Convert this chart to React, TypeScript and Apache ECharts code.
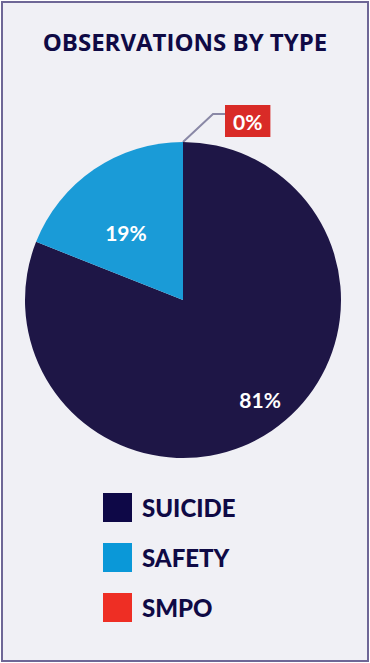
import React, { useEffect, useRef } from "react";
import * as echarts from "echarts";

const categories = ["SUICIDE", "SAFETY", "SMPO"];
const values = [81, 19, 0];
const sliceColors = ["#1e1646", "#1a9bd7", "#d92b27"];
const legendColors = ["#0e0847", "#0a98d8", "#ee2e24"];
const titleText = "OBSERVATIONS BY TYPE";

const W = 370;
const H = 663;
const CX = 183;
const CY = 300;
const R = 158;
const FONT = "Lato, 'Open Sans', sans-serif";
const TITLE_FONT = "'Open Sans', Lato, sans-serif";
const NAVY = "#0f0a45";

export default function App() {
  const ref = useRef<HTMLDivElement>(null);
  useEffect(() => {
    if (!ref.current) return;
    const chart = echarts.init(ref.current, undefined, { renderer: "svg" });
    const insideOffsets: number[][] = [[31, 32], [-11, 0], [0, 0]];
    chart.setOption({
      animation: false,
      backgroundColor: "#ffffff",
      graphic: [
        {
          type: "rect",
          z: -10,
          shape: { x: 2, y: 2, width: W - 4, height: H - 4 },
          style: { fill: "#f0f0f5", stroke: "#6e6796", lineWidth: 2 },
        },
      ],
      title: {
        text: titleText,
        left: "center",
        top: 24,
        textStyle: { fontFamily: TITLE_FONT, fontWeight: "bold", fontSize: 24, color: NAVY },
      },
      legend: {
        orient: "vertical",
        left: 98,
        top: 488,
        itemWidth: 29,
        itemHeight: 29,
        itemGap: 21,
        icon: "rect",
        selectedMode: false,
        data: categories.map((c, i) => ({ name: c, itemStyle: { color: legendColors[i] } })),
        textStyle: {
          fontFamily: FONT,
          fontWeight: 900,
          fontSize: 24,
          color: NAVY,
          padding: [0, 0, 0, 5],
        },
      },
      series: [
        {
          type: "pie",
          center: [CX, CY],
          radius: R,
          startAngle: 90,
          clockwise: true,
          label: {
            show: true,
            position: "inside",
            formatter: "{d}%",
            color: "#ffffff",
            fontFamily: FONT,
            fontWeight: "bold",
            fontSize: 21,
          },
          labelLine: { show: false },
          emphasis: { disabled: true },
          labelLayout: (params: any) => {
            if (params.dataIndex === 2) {
              return {
                x: CX + 42,
                y: CY - R - 21,
                align: "left",
                verticalAlign: "middle",
                labelLinePoints: [
                  [CX, CY - R],
                  [CX + 30, CY - R - 28],
                  [CX + 42, CY - R - 28],
                ],
              };
            }
            return {};
          },
          data: categories.map((c, i) => ({
            name: c,
            value: values[i],
            itemStyle: { color: sliceColors[i] },
            label:
              i === 2
                ? {
                    position: "outside",
                    backgroundColor: "#d92b27",
                    padding: [6, 8, 5, 8],
                    fontSize: 21,
                  }
                : { offset: insideOffsets[i] },
            labelLine:
              i === 2
                ? { show: true, lineStyle: { color: "#8a88a6", width: 2 } }
                : { show: false },
          })),
        },
      ],
    });
    return () => chart.dispose();
  }, []);
  return (
    <div
      ref={ref}
      style={{ position: "fixed", left: 0, top: 0, width: W, height: H }}
    />
  );
}
